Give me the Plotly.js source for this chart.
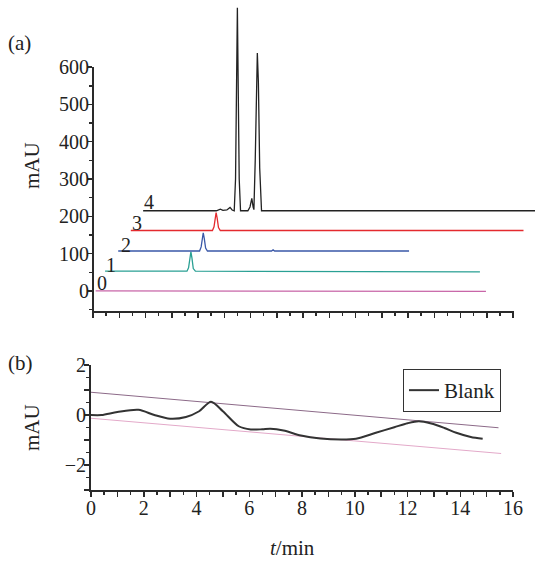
<!DOCTYPE html>
<html><head><meta charset="utf-8">
<script src="https://cdn.plot.ly/plotly-3.0.1.min.js"></script>
<style>body{margin:0;background:#fff}#c{width:535px;height:561px}</style>
</head><body><div id="c"></div>
<script>
// Panel (a): chromatograms 0-4 (t in min, absorbance in mAU)
const t0 = [0.1, 5.5, 5.6, 8.3, 8.4, 9.6, 9.7, 12.1, 12.2, 14.97];
const a0 = [0, 0, -1, -1, -0.5, -0.5, 0, 0, -1, -1];
const t1 = [0.46, 3.58, 3.64, 3.69, 3.73, 3.77, 3.82, 3.9, 9.35, 9.4, 14.74];
const a1 = [53, 53, 62, 92, 105, 88, 60, 53, 53, 51, 51];
const t2 = [0.96, 4.06, 4.12, 4.17, 4.2, 4.24, 4.29, 4.36, 6.8, 6.86, 6.92, 12.04];
const a2 = [107, 107, 118, 145, 156, 140, 115, 107, 107, 110, 107, 107];
const t3 = [1.44, 4.55, 4.61, 4.66, 4.69, 4.73, 4.78, 4.85, 16.4];
const a3 = [162, 162, 172, 200, 210, 195, 170, 162, 162];
const t4 = [1.91, 4.7, 4.85, 4.95, 5.1, 5.22, 5.3, 5.38, 5.43, 5.47, 5.5, 5.53, 5.57, 5.62,
            5.9, 5.98, 6.05, 6.1, 6.13, 6.18, 6.23, 6.26, 6.3, 6.35, 6.42, 17];
const a4 = [215, 215, 219, 216, 217, 224, 217, 215, 300, 550, 759, 560, 300, 215,
            215, 225, 248, 225, 218, 350, 590, 638, 560, 330, 215, 215];
const traceLabels = ['0', '1', '2', '3', '4'];
const labelT = [0.36, 0.67, 1.24, 1.66, 2.12];
const labelY = [22, 70, 124, 182, 239];

// Panel (b): blank run and two reference lines
const tb = [0, 0.4, 1.0, 1.8, 2.4, 3.0, 3.6, 4.1, 4.55, 5.0, 5.6, 6.06, 6.5, 6.8, 7.3, 7.96,
            8.7, 9.5, 10.05, 10.8, 11.5, 12.0, 12.43, 12.9, 13.4, 13.85, 14.4, 14.85];
const yb = [0, 0.0, 0.12, 0.21, 0.0, -0.15, -0.08, 0.15, 0.53, 0.15, -0.45, -0.58, -0.57,
            -0.55, -0.62, -0.82, -0.94, -0.98, -0.95, -0.71, -0.49, -0.33, -0.25, -0.34,
            -0.52, -0.71, -0.88, -0.95];
const tUpper = [0, 15.45];
const yUpper = [0.91, -0.51];
const tLower = [0, 15.55];
const yLower = [-0.13, -1.54];
const xTicks = [0,1,2,3,4,5,6,7,8,9,10,11,12,13,14,15,16];
const xTickTextB = xTicks.map(v => v % 2 === 0 ? String(v) : '');
const yTicksA = [0, 100, 200, 300, 400, 500, 600];
const yTicksB = [-3, -2, -1, 0, 1, 2];
const yTickTextB = ['', '\u22122', '', '0', '', '2'];

const FONT = 'Liberation Serif, Times New Roman, serif';
const AX = '#2a2a2a';
const colorsA = ['#c866a8', '#2aa094', '#3a58a8', '#e42a2e', '#222222'];
const tsA = [t0, t1, t2, t3, t4];
const ysA = [a0, a1, a2, a3, a4];

const traces = [];
for (let i = 0; i < 5; i++) {
  traces.push({x: tsA[i], y: ysA[i], xaxis: 'x', yaxis: 'y', mode: 'lines',
    line: {color: colorsA[i], width: 1.3}, showlegend: false, hoverinfo: 'skip'});
}
traces.push({x: tUpper, y: yUpper, xaxis: 'x2', yaxis: 'y2', mode: 'lines',
  line: {color: '#8c6a88', width: 1}, showlegend: false});
traces.push({x: tLower, y: yLower, xaxis: 'x2', yaxis: 'y2', mode: 'lines',
  line: {color: '#e3a9c9', width: 1}, showlegend: false});
traces.push({x: tb, y: yb, xaxis: 'x2', yaxis: 'y2', mode: 'lines', name: 'Blank',
  line: {color: '#333333', width: 2, shape: 'spline', smoothing: 0.8}, showlegend: true});

const W = 535, H = 561;
const fx = p => p / W, fy = p => 1 - p / H;
const A_BOTTOM = 312;

const annotations = traceLabels.map((s, i) => ({
  text: s, x: labelT[i], y: labelY[i], xref: 'x', yref: 'y', showarrow: false,
  xanchor: 'center', yanchor: 'middle', font: {family: FONT, size: 20, color: '#222'}
}));
annotations.push(
  {text: '(a)', x: fx(6), y: fy(43), xref: 'paper', yref: 'paper', xanchor: 'left', yanchor: 'middle', showarrow: false, font: {family: FONT, size: 21, color: '#222'}},
  {text: '(b)', x: fx(6), y: fy(363), xref: 'paper', yref: 'paper', xanchor: 'left', yanchor: 'middle', showarrow: false, font: {family: FONT, size: 21, color: '#222'}},
  {text: 'mAU', x: fx(32), y: fy(166), xref: 'paper', yref: 'paper', textangle: -90, xanchor: 'center', yanchor: 'middle', showarrow: false, font: {family: FONT, size: 21, color: '#222'}},
  {text: 'mAU', x: fx(32), y: fy(428), xref: 'paper', yref: 'paper', textangle: -90, xanchor: 'center', yanchor: 'middle', showarrow: false, font: {family: FONT, size: 21, color: '#222'}},
  {text: '<i>t</i>/min', x: fx(292), y: fy(548), xref: 'paper', yref: 'paper', xanchor: 'center', yanchor: 'middle', showarrow: false, font: {family: FONT, size: 21, color: '#222'}}
);

const tickBase = {ticks: 'outside', ticklen: 5, tickwidth: 1.5, tickcolor: AX,
  ticklabelstandoff: -6,
  tickfont: {family: FONT, size: 20, color: '#222'}, showgrid: false, zeroline: false,
  automargin: false, fixedrange: true};
const minorHalf = {dtick: 0.5, tick0: 0, ticks: 'outside', ticklen: 3, tickwidth: 1.5, tickcolor: AX};

const layout = {
  width: W, height: H, margin: {l: 0, r: 0, t: 0, b: 0},
  paper_bgcolor: '#fff', plot_bgcolor: 'rgba(0,0,0,0)',
  font: {family: FONT, color: '#222'},
  xaxis: Object.assign({}, tickBase, {domain: [fx(93), 1], range: [0, 442 / 26.25], anchor: 'y',
    tickmode: 'array', tickvals: xTicks, showticklabels: false,
    minor: {tickmode: 'array', tickvals: xTicks.slice(0, 16).map(v => v + 0.5), ticks: 'outside', ticklen: 3, tickwidth: 1.5, tickcolor: AX},
    showline: false}),
  yaxis: Object.assign({}, tickBase, {domain: [fy(A_BOTTOM), 1], range: [-56.5, 780], anchor: 'x',
    tickmode: 'array', tickvals: yTicksA,
    minor: {tickmode: 'array', tickvals: [-50, 50, 150, 250, 350, 450, 550], ticks: 'outside', ticklen: 3, tickwidth: 1.5, tickcolor: AX},
    showline: false}),
  xaxis2: Object.assign({}, tickBase, {domain: [fx(91), fx(513)], range: [0, 16], anchor: 'y2',
    tickmode: 'array', tickvals: xTicks, ticktext: xTickTextB,
    minor: minorHalf, showline: true, linecolor: AX, linewidth: 2}),
  yaxis2: Object.assign({}, tickBase, {domain: [fy(490), fy(365)], range: [-3, 2], anchor: 'x2',
    tickmode: 'array', tickvals: yTicksB, ticktext: yTickTextB,
    minor: minorHalf, showline: true, linecolor: AX, linewidth: 2}),
  shapes: [
    {type: 'rect', xref: 'paper', yref: 'paper', layer: 'above', x0: fx(92), x1: fx(514), y0: fy(A_BOTTOM + 1), y1: fy(A_BOTTOM - 1), fillcolor: AX, line: {width: 0}},
    {type: 'rect', xref: 'paper', yref: 'paper', layer: 'above', x0: fx(92), x1: fx(94), y0: fy(A_BOTTOM), y1: fy(67), fillcolor: AX, line: {width: 0}}
  ],
  legend: {x: fx(403), y: fy(369), xanchor: 'left', yanchor: 'top', bgcolor: '#fff',
    bordercolor: '#333', borderwidth: 1, font: {family: FONT, size: 21, color: '#222'},
    itemwidth: 30, tracegroupgap: 0},
  annotations: annotations
};

Plotly.newPlot('c', traces, layout, {staticPlot: true, displayModeBar: false});
</script></body></html>
